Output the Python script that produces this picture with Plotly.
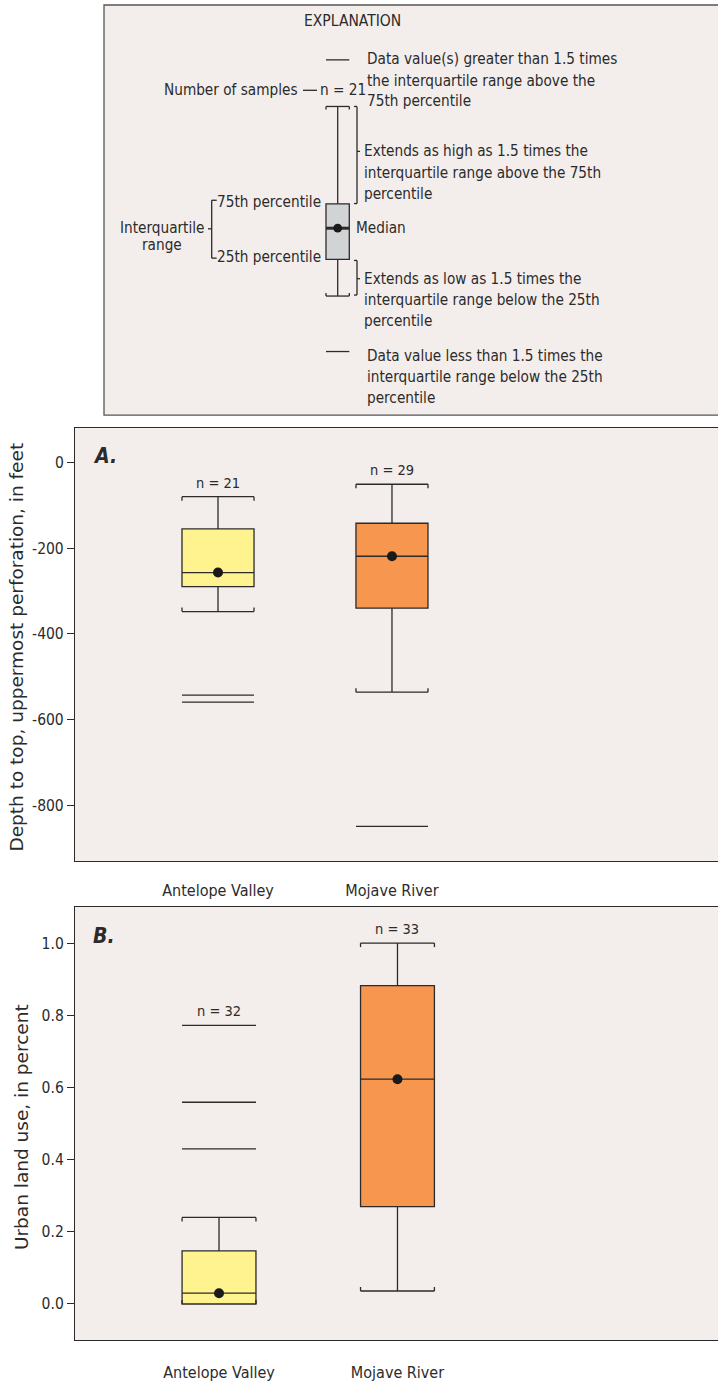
import plotly.graph_objects as go

# ---------------- data ----------------
categories = ["Antelope Valley", "Mojave River"]
positions = [0, 1]
box_colors = ["#FFF38F", "#F7964F"]

depth_lower_whisker = [-348, -536]
depth_q1 = [-290, -340]
depth_median = [-257, -219]
depth_q3 = [-155, -142]
depth_upper_whisker = [-80, -51]
depth_outliers = [[-543, -559], [-849]]
depth_n = [21, 29]
depth_ticks = [-800, -600, -400, -200, 0]
depth_ticktext = ["-800", "-600", "-400", "-200", "0"]

urban_lower_whisker = [0.0, 0.036]
urban_q1 = [0.0, 0.270]
urban_median = [0.030, 0.623]
urban_q3 = [0.147, 0.882]
urban_upper_whisker = [0.240, 1.0]
urban_outliers = [[0.430, 0.559, 0.772], []]
urban_n = [32, 33]
urban_ticks = [0.0, 0.2, 0.4, 0.6, 0.8, 1.0]
urban_ticktext = ["0.0", "0.2", "0.4", "0.6", "0.8", "1.0"]

# ---------------- style ----------------
W, H = 718, 1382
BG = "#F3EEEB"
INK = "#2b2b2b"
NARROW = "DejaVu Sans Condensed, Liberation Sans Narrow, sans-serif"
WIDE = "DejaVu Sans, Verdana, sans-serif"
BOX_W = 0.414
EXP_SIZE = 15.2

def X(px):
    return px / W

def Y(py):
    return 1 - py / H

fig = go.Figure()
shapes = []
annotations = []

def add_panel(xa, ya, lower, q1, med, q3, upper, outliers, ns, box_px):
    for i, pos in enumerate(positions):
        fig.add_trace(go.Box(
            x=[pos], q1=[q1[i]], median=[med[i]], q3=[q3[i]],
            lowerfence=[lower[i]], upperfence=[upper[i]],
            width=BOX_W, whiskerwidth=1, fillcolor=box_colors[i],
            line=dict(color=INK, width=1.3), boxpoints=False,
            xaxis=xa, yaxis=ya, showlegend=False, hoverinfo="skip"))
        fig.add_trace(go.Scatter(
            x=[pos], y=[med[i]], mode="markers",
            marker=dict(size=10, color="#1a1a1a"),
            xaxis=xa, yaxis=ya, showlegend=False, hoverinfo="skip"))
        if outliers[i]:
            fig.add_trace(go.Scatter(
                x=[pos] * len(outliers[i]), y=outliers[i], mode="markers",
                marker=dict(symbol="line-ew", size=box_px / 1.4,
                            line=dict(color=INK, width=1.3)),
                xaxis=xa, yaxis=ya, showlegend=False, hoverinfo="skip"))
        for val, d in ((upper[i], -4), (lower[i], 4)):
            for edge in (pos - BOX_W / 2, pos + BOX_W / 2):
                shapes.append(dict(type="line", xref=xa, yref=ya,
                                   ysizemode="pixel", yanchor=val,
                                   x0=edge, x1=edge, y0=0, y1=d,
                                   line=dict(color=INK, width=1.3)))
        top = max([upper[i]] + outliers[i])
        annotations.append(dict(x=pos, y=top, xref=xa, yref=ya,
                                text=f"n = {ns[i]}", showarrow=False,
                                yanchor="middle", yshift=14,
                                font=dict(family=NARROW, size=14.5, color=INK)))

add_panel("x", "y", depth_lower_whisker, depth_q1, depth_median, depth_q3,
          depth_upper_whisker, depth_outliers, depth_n, 72)
add_panel("x2", "y2", urban_lower_whisker, urban_q1, urban_median, urban_q3,
          urban_upper_whisker, urban_outliers, urban_n, 74)

# ---------------- explanation (legend illustration) ----------------
def pline(x0, y0, x1, y1, w=1.3):
    shapes.append(dict(type="line", xref="paper", yref="paper",
                       x0=X(x0), y0=Y(y0), x1=X(x1), y1=Y(y1),
                       line=dict(color=INK, width=w)))

def ptext(text, x, y, xanchor="left", size=EXP_SIZE):
    annotations.append(dict(x=X(x), y=Y(y), xref="paper", yref="paper",
                            text=text, showarrow=False, xanchor=xanchor,
                            yanchor="middle",
                            font=dict(family=NARROW, size=size, color=INK)))

shapes.append(dict(type="rect", xref="paper", yref="paper", layer="below",
                   x0=X(104), y0=Y(5), x1=X(740), y1=Y(416),
                   fillcolor=BG, line=dict(color="#555555", width=1.3)))

ptext("EXPLANATION", 352, 21, "center", 15.5)
bx0, bx1, bxc = 326, 349.3, 337.7
pline(bx0, 60, bx1, 60)
ptext("Data value(s) greater than 1.5 times", 365, 59.5)
ptext("the interquartile range above the", 365, 81)
ptext("75th percentile", 365, 101.7)
ptext("Number of samples", 300, 90.5, "right")
pline(303, 90.5, 317, 90.5)
ptext("n = 21", 318, 90.5, "left")
pline(bx0, 106.7, bx1, 106.7)
pline(bx0, 106.7, bx0, 109.7)
pline(bx1, 106.7, bx1, 109.7)
pline(bxc, 106.7, bxc, 204.3)
shapes.append(dict(type="rect", xref="paper", yref="paper",
                   x0=X(bx0), y0=Y(204.3), x1=X(bx1), y1=Y(260),
                   fillcolor="#D1D3D4", line=dict(color=INK, width=1.3)))
pline(bx0, 228.7, bx1, 228.7, 3)
shapes.append(dict(type="circle", xref="paper", yref="paper",
                   x0=X(bxc - 4.4), x1=X(bxc + 4.4), y0=Y(228.7 - 4.4), y1=Y(228.7 + 4.4),
                   fillcolor="#1a1a1a", line=dict(color="#1a1a1a", width=0)))
pline(bxc, 260, bxc, 296.7)
pline(bx0, 296.7, bx1, 296.7)
pline(bx0, 296.7, bx0, 293.7)
pline(bx1, 296.7, bx1, 293.7)
pline(bx0, 352.3, bx1, 352.3)

pline(357, 106.7, 357, 204)
pline(354, 106.7, 357, 106.7)
pline(354, 204, 357, 204)
pline(357, 151.7, 360, 151.7)
ptext("Extends as high as 1.5 times the", 362, 151.7)
ptext("interquartile range above the 75th", 362, 173.3)
ptext("percentile", 362, 194)
ptext("Median", 354, 228.7)
pline(357, 261, 357, 295.7)
pline(354, 261, 357, 261)
pline(354, 295.7, 357, 295.7)
pline(357, 279.3, 360, 279.3)
ptext("Extends as low as 1.5 times the", 362, 279.3)
ptext("interquartile range below the 25th", 362, 301)
ptext("percentile", 362, 322)
ptext("75th percentile", 323, 202.3, "right")
ptext("25th percentile", 323, 257.7, "right")
pline(211.7, 200.7, 211.7, 258.7)
pline(211.7, 200.7, 216.7, 200.7)
pline(211.7, 258.7, 216.7, 258.7)
pline(208, 229.3, 211.7, 229.3)
ptext("Interquartile", 162, 228.3, "center")
ptext("range", 162, 246, "center")
ptext("Data value less than 1.5 times the", 365, 357)
ptext("interquartile range below the 25th", 365, 378)
ptext("percentile", 365, 399)

for letter, yy in (("A.", 457), ("B.", 938)):
    annotations.append(dict(x=X(91), y=Y(yy), xref="paper", yref="paper",
                            text=f"<b><i>{letter}</i></b>",
                            showarrow=False, xanchor="left", yanchor="middle",
                            font=dict(family=NARROW, size=21, color=INK)))

annotations.append(dict(x=X(17), y=Y(649), xref="paper", yref="paper",
                        text="Depth to top, uppermost perforation, in feet",
                        textangle=-90, showarrow=False, xanchor="center", yanchor="middle",
                        font=dict(family=WIDE, size=18.5, color=INK)))
annotations.append(dict(x=X(21), y=Y(1129.5), xref="paper", yref="paper",
                        text="Urban land use, in percent",
                        textangle=-90, showarrow=False, xanchor="center", yanchor="middle",
                        font=dict(family=WIDE, size=18.5, color=INK)))

xcommon = dict(tickvals=positions, ticktext=categories, showline=True, mirror=True,
               linecolor=INK, linewidth=1.3, showgrid=False, zeroline=False, ticks="",
               tickfont=dict(family=NARROW, size=16, color=INK), fixedrange=True)
ycommon = dict(showline=True, mirror=False, linecolor=INK, linewidth=1.3, showgrid=False,
               zeroline=False, ticks="outside", ticklen=7, tickcolor=INK, tickwidth=1.2,
               tickfont=dict(family=NARROW, size=15.5, color=INK), fixedrange=True)

fig.update_layout(
    width=W, height=H, margin=dict(l=0, r=0, t=0, b=0),
    paper_bgcolor="white", plot_bgcolor=BG, showlegend=False,
    xaxis=dict(domain=[X(75), 1], range=[-0.822, 2.874], anchor="y",
               ticklabelstandoff=15, **xcommon),
    yaxis=dict(domain=[Y(863), Y(429)], range=[-930, 80], tickvals=depth_ticks,
               ticktext=depth_ticktext, anchor="x", **ycommon),
    xaxis2=dict(domain=[X(75), 1], range=[-0.807, 2.796], anchor="y2",
                ticklabelstandoff=18, **xcommon),
    yaxis2=dict(domain=[Y(1343), Y(909)], range=[-0.10, 1.10], tickvals=urban_ticks,
                ticktext=urban_ticktext, anchor="x2", **ycommon),
    shapes=shapes, annotations=annotations,
)

fig.write_html(
    "out.html",
    config={"displayModeBar": False},
    post_script="document.body.style.margin='0';document.documentElement.style.overflow='hidden';",
)
